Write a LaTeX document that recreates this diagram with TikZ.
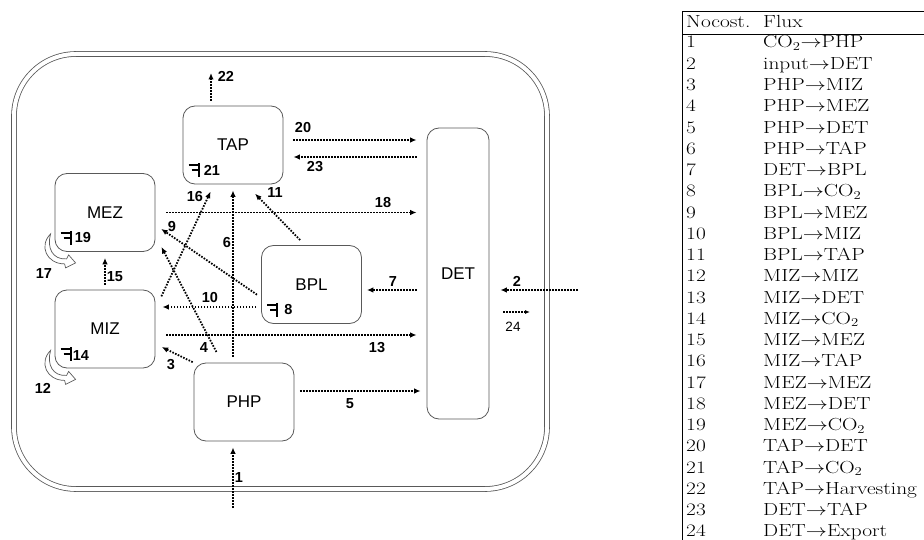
\documentclass[tikz,border=0pt]{standalone}
\usepackage{fontspec}
\usepackage{graphicx}
\usepackage{tikz}
\usetikzlibrary{arrows.meta,calc}
\newfontfamily\arial{Liberation Sans}
\newcommand{\wide}[1]{\scalebox{1.22}[1]{#1}}

\tikzset{
    recycle/.pic={
        \draw[draw=black!65, fill=white, line width=0.7pt] (-4,-18) .. controls (-16,-6) and (-8,12) .. (10,12)
            -- (11,16) -- (21,11) -- (14,3) -- (12,7) .. controls (-2,8) and (-8,-4) .. cycle;
    },
    respmark/.pic={
        \draw[line width=1.9pt] (16,-21) -- (16,-7) (6,-19) -- (16,-19) (9,-14) -- (16,-14);
    }
}

\begin{document}
\begin{tikzpicture}[x=1pt, y=-1pt,
    box/.style={draw=black!65, rounded corners=12pt, line width=0.8pt, minimum width=100pt, minimum height=78pt, font=\arial\fontsize{17}{18}\selectfont},
    flow/.style={draw=black, line width=1.8pt, dash pattern=on 1.6pt off 1.4pt, -{Latex[length=6.5pt,width=5.5pt]}},
    lbl/.style={font=\arial\bfseries\fontsize{14.5}{14}\selectfont, inner sep=0pt},
    tab/.style={anchor=base west, inner sep=0pt, font=\fontsize{17.5}{20}\selectfont}]

    \useasboundingbox (0,0) rectangle (924,540);

    % cell wall
    \draw[black!65, line width=0.8pt, double, double distance=4pt, rounded corners=62pt] (14,54) rectangle (547,489);

    % compartments
    \node[box] (tap) at (233,145) {TAP};
    \node[box] (mez) at (105,212.5) {MEZ};
    \node[box] (miz) at (105,329) {MIZ};
    \node[box] (bpl) at (311.5,284.5) {BPL};
    \node[box] (php) at (244,402) {PHP};
    \node[box, minimum width=62pt, minimum height=291pt] (det) at (458,273.5) {DET};

    % respiration
    \pic at (tap.south west) {respmark};
    \pic at (mez.south west) {respmark};
    \pic at (miz.south west) {respmark};
    \pic at (bpl.south west) {respmark};
    \node[lbl, anchor=west] (r21) at ([shift={(21,-14)}]tap.south west) {21};
    \node[lbl, anchor=west] (r19) at ([shift={(20,-14)}]mez.south west) {19};
    \node[lbl, anchor=west] (r14) at ([shift={(18,-13)}]miz.south west) {14};
    \node[lbl, anchor=west] (r8) at ([shift={(23,-14)}]bpl.south west) {8};

    % self loops
    \pic at (mez.south west) {recycle};
    \pic at (miz.south west) {recycle};

    % outside ends
    \coordinate (harvest) at (211,73);
    \coordinate (co2in) at (233,508);
    \coordinate (input) at (578,290);
    \coordinate (export) at (530,312);

    % fluxes
    \draw[flow, shorten <=10pt, shorten >=10pt] ($(tap.east)+(0,-5)$) -- ($(tap.east -| det.west)+(0,-5)$);
    \draw[flow, shorten <=10pt, shorten >=10pt] ($(tap.east -| det.west)+(0,12)$) -- ($(tap.east)+(0,12)$);
    \draw[flow, shorten <=11pt, shorten >=10pt] (mez.east) -- (mez.east -| det.west);
    \draw[flow, shorten <=11pt, shorten >=10pt] ($(miz.east)+(0,6)$) -- ($(miz.east -| det.west)+(0,6)$);
    \draw[flow, shorten <=5pt, shorten >=7pt] ($(bpl.west)+(0,22.5)$) -- ($(bpl.west -| miz.east)+(0,22.5)$);
    \draw[flow, shorten <=10pt, shorten >=5pt] ($(det.west)+(0,16.5)$) -- ($(det.west -| bpl.east)+(0,16.5)$);
    \draw[flow, shorten <=5.5pt, shorten >=6pt] ($(php.east)+(0,-11)$) -- ($(php.east -| det.west)+(0,-11)$);
    \draw[flow, shorten <=6pt, shorten >=6pt] (php.north -| tap.south) -- (tap.south);
    \draw[flow, shorten <=5pt, shorten >=6pt] (miz.north) -- (mez.south);
    \draw[flow, shorten <=7pt, shorten >=13pt] ($(bpl.north)+(-6.5,0)$) -- ($(tap.south)+(13,0)$);
    \draw[flow, shorten <=14pt, shorten >=8pt] ($(miz.east)+(0,-20)$) -- ($(tap.south)+(-19,0)$);
    \draw[flow, shorten <=5pt, shorten >=7pt] ($(bpl.west)+(0,13)$) -- ($(mez.east)+(0,12.4)$);
    \draw[flow, shorten <=12pt, shorten >=13pt] ($(php.north)+(-22,0)$) -- ($(mez.east)+(0,23)$);
    \draw[flow, shorten <=1pt, shorten >=7pt] (php.north west) -- ($(miz.east)+(0,15)$);
    \draw[flow, shorten <=5pt] ($(tap.north)+(-22,0)$) -- (harvest);
    \draw[flow, shorten >=6pt] (co2in) -- ($(php.south)+(-11,0)$);
    \draw[flow, shorten >=11pt] (input) -- ($(det.east)+(0,16.5)$);
    \draw[flow, line width=1.1pt, -{Latex[length=5pt,width=4pt]}] ($(det.east)+(14,38.5)$) -- (export);

    % flux numbers
    \foreach \t/\p in {1/{239,478}, 2/{517,281}, 3/{171,365}, 4/{204,348}, 5/{350,404},
        6/{227,243}, 7/{393,282}, 9/{172,227}, 10/{210,298}, 11/{275,193}, 12/{43,388},
        13/{377,348}, 15/{115,277}, 16/{195,197}, 17/{44,274}, 18/{383,203}, 20/{303,128},
        22/{226,76}, 23/{315,167}}
        \node[lbl] (l\t) at (\p) {\t};
    \node[lbl, font=\arial\fontsize{13.5}{13}\selectfont] (l24) at (513,327) {24};

    % table of fluxes
    \draw[line width=1pt] (682,12) -- (924,12);
    \draw[line width=0.6pt] (682,34) -- (924,34);
    \draw[line width=0.6pt] (682,12) -- (682,540);
    \node[tab] (hno) at (686,28) {\wide{Nocost.}};
    \node[tab] (hflux) at (763,28) {\wide{Flux}};
    \foreach \f [count=\i] in {{CO$_2$\relax$\rightarrow$PHP}, {input$\rightarrow$DET}, {PHP$\rightarrow$MIZ},
        {PHP$\rightarrow$MEZ}, {PHP$\rightarrow$DET}, {PHP$\rightarrow$TAP}, {DET$\rightarrow$BPL},
        {BPL$\rightarrow$CO$_2$}, {BPL$\rightarrow$MEZ}, {BPL$\rightarrow$MIZ}, {BPL$\rightarrow$TAP},
        {MIZ$\rightarrow$MIZ}, {MIZ$\rightarrow$DET}, {MIZ$\rightarrow$CO$_2$}, {MIZ$\rightarrow$MEZ},
        {MIZ$\rightarrow$TAP}, {MEZ$\rightarrow$MEZ}, {MEZ$\rightarrow$DET}, {MEZ$\rightarrow$CO$_2$},
        {TAP$\rightarrow$DET}, {TAP$\rightarrow$CO$_2$}, {TAP$\rightarrow$Harvesting},
        {DET$\rightarrow$TAP}, {DET$\rightarrow$Export}} {
        \node[tab] (n\i) at (686,{48+(\i-1)*21.26}) {\wide{\i}};
        \node[tab] (f\i) at (763,{48+(\i-1)*21.26}) {\wide{\f}};
    }
\end{tikzpicture}
\end{document}
